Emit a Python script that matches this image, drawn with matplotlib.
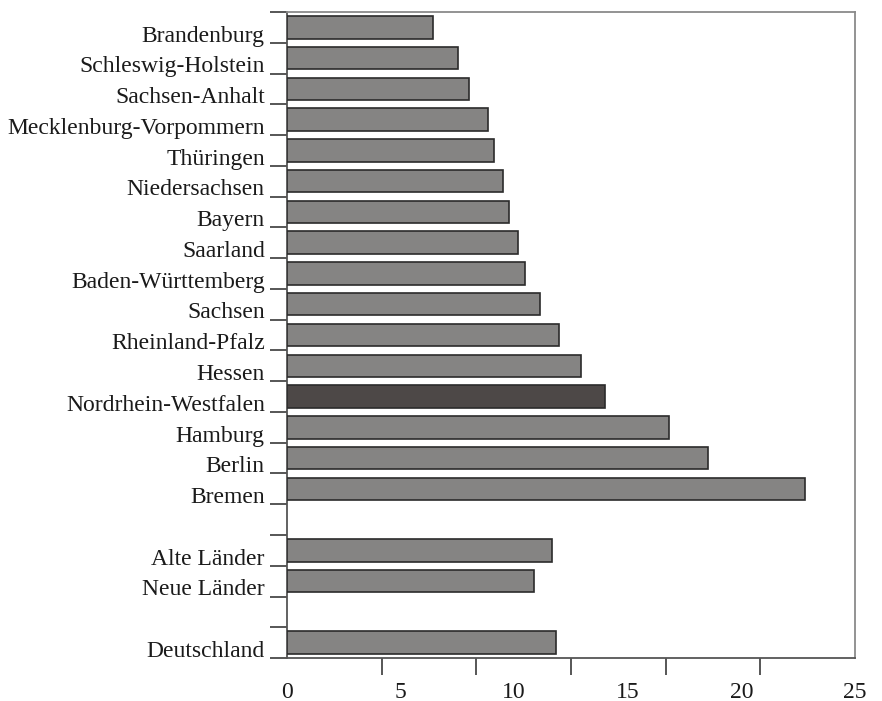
import numpy as np
import matplotlib
matplotlib.use('Agg')
import matplotlib.pyplot as plt
import matplotlib.transforms as mtransforms

plt.rcParams['font.family'] = ['Liberation Serif', 'DejaVu Serif']

# data
states = ['Brandenburg', 'Schleswig-Holstein', 'Sachsen-Anhalt',
          'Mecklenburg-Vorpommern', 'Thüringen', 'Niedersachsen', 'Bayern',
          'Saarland', 'Baden-Württemberg', 'Sachsen', 'Rheinland-Pfalz',
          'Hessen', 'Nordrhein-Westfalen', 'Hamburg', 'Berlin', 'Bremen']
state_vals = [6.44, 7.54, 8.02, 8.86, 9.12, 9.51, 9.77, 10.15, 10.49, 11.14,
              11.98, 12.96, 14.01, 16.81, 18.52, 22.80]
regions = ['Alte Länder', 'Neue Länder']
region_vals = [11.67, 10.87]
total = ['Deutschland']
total_vals = [11.86]
highlight = 'Nordrhein-Westfalen'

xticklabels = ['0', '5', '10', '15', '20', '25']

# groups separated by one empty slot
names = states + [''] + regions + [''] + total
vals = state_vals + [np.nan] + region_vals + [np.nan] + total_vals
pos = np.arange(len(names))

grey = '#858483'
dark = '#4d4847'
colors = [dark if n == highlight else grey for n in names]

fig = plt.figure(figsize=(8.82, 7.01), dpi=100)
ax = fig.add_axes([0.3254, 0.0613, 0.6440, 0.9216])

mask = ~np.isnan(vals)
ax.barh(pos[mask], np.array(vals)[mask], height=0.73,
        color=[c for c, m in zip(colors, mask) if m],
        edgecolor='#2b2b2b', linewidth=1.2, zorder=3)

ax.set_xlim(0, 25)
ax.set_ylim(len(names) - 0.5, -0.5)

# y: labels at slot centres, marks at slot boundaries
ax.set_yticks(pos[mask])
ax.set_yticklabels([n for n, m in zip(names, mask) if m], fontsize=17,
                   color='#1a1a1a')
ax.set_yticks(np.arange(len(names) + 1) - 0.5, minor=True)
ax.tick_params(axis='y', which='major', length=0, pad=16)
ax.tick_params(axis='y', which='minor', length=12, width=1.2, color='#3a3a3a')
off = mtransforms.ScaledTranslation(0, -4.5 / 72, fig.dpi_scale_trans)
for lab in ax.get_yticklabels():
    lab.set_transform(lab.get_transform() + off)

# x: labels every 5, marks split in six
ax.set_xticks([0, 5, 10, 15, 20, 25])
ax.set_xticklabels(xticklabels, fontsize=17, color='#1a1a1a')
ax.set_xticks(np.linspace(0, 25, 7), minor=True)
ax.tick_params(axis='x', which='major', length=0, pad=17)
ax.tick_params(axis='x', which='minor', length=12, width=1.2, color='#3a3a3a')

for s in ['top', 'right']:
    ax.spines[s].set_color('#8a8a8a')
    ax.spines[s].set_linewidth(1.3)
for s in ['left', 'bottom']:
    ax.spines[s].set_color('#555555')
    ax.spines[s].set_linewidth(1.3)

fig.savefig('out.png', dpi=100)
